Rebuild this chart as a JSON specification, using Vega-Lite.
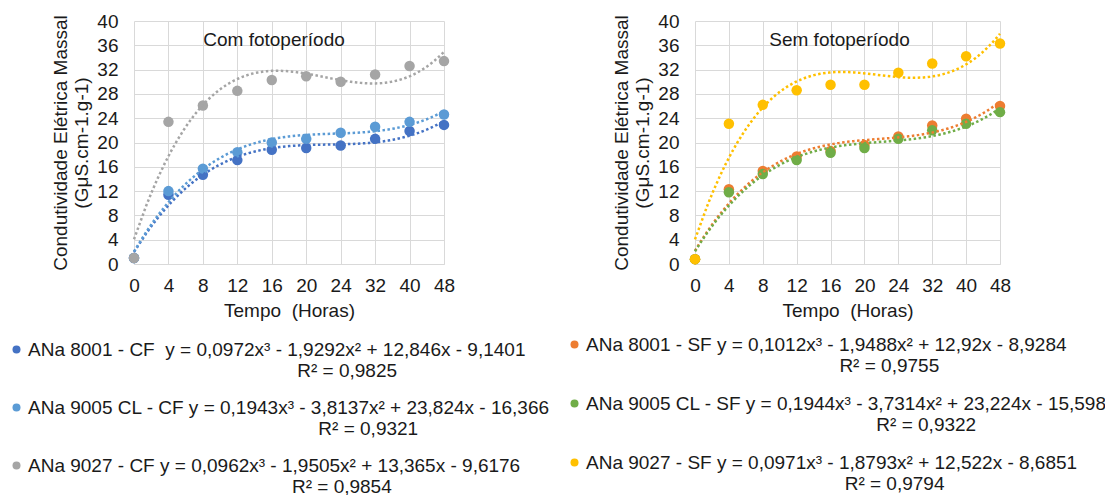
{
  "$schema": "https://vega.github.io/schema/vega-lite/v6.json",
  "padding": {"left": 7, "top": 12, "right": 5, "bottom": 2},
  "background": "white",
  "config": {
    "view": {"stroke": null},
    "font": "Liberation Sans",
    "axis": {
      "labelFont": "Liberation Sans", "labelFontSize": 19, "labelColor": "#1a1a1a", "labelFlush": false,
      "titleFont": "Liberation Sans", "titleFontSize": 19, "titleFontWeight": "normal", "titleColor": "#1a1a1a",
      "gridColor": "#D9D9D9", "gridWidth": 1, "ticks": false, "domain": false
    },
    "legend": {
      "orient": "none", "direction": "vertical", "title": null, "padding": 0,
      "symbolType": "circle", "symbolSize": 64, "symbolStrokeWidth": 0,
      "labelFont": "Liberation Sans", "labelFontSize": 19, "labelColor": "#1a1a1a",
      "labelLimit": 1000, "labelOffset": 2, "rowPadding": 17
    },
    "title": {"font": "Liberation Sans", "fontSize": 19, "fontWeight": "normal", "color": "#1a1a1a"}
  },
  "bounds": "flush",
  "spacing": 251,
  "resolve": {"scale": {"color": "independent"}},
  "hconcat": [
    {
      "width": 310, "height": 243,
      "title": {"text": "Com fotoperíodo", "offset": -38, "dx": -15},
      "data": {"values": [
        {"s": "ANa 8001 - CF", "t": 1, "v": 1.0}, {"s": "ANa 8001 - CF", "t": 2, "v": 11.4}, {"s": "ANa 8001 - CF", "t": 3, "v": 14.7}, {"s": "ANa 8001 - CF", "t": 4, "v": 17.1}, {"s": "ANa 8001 - CF", "t": 5, "v": 18.8},
        {"s": "ANa 8001 - CF", "t": 6, "v": 19.1}, {"s": "ANa 8001 - CF", "t": 7, "v": 19.5}, {"s": "ANa 8001 - CF", "t": 8, "v": 20.6}, {"s": "ANa 8001 - CF", "t": 9, "v": 21.9}, {"s": "ANa 8001 - CF", "t": 10, "v": 22.9},
        {"s": "ANa 9005 CL - CF", "t": 1, "v": 1.0}, {"s": "ANa 9005 CL - CF", "t": 2, "v": 12.0}, {"s": "ANa 9005 CL - CF", "t": 3, "v": 15.7}, {"s": "ANa 9005 CL - CF", "t": 4, "v": 18.4}, {"s": "ANa 9005 CL - CF", "t": 5, "v": 20.0},
        {"s": "ANa 9005 CL - CF", "t": 6, "v": 20.6}, {"s": "ANa 9005 CL - CF", "t": 7, "v": 21.6}, {"s": "ANa 9005 CL - CF", "t": 8, "v": 22.6}, {"s": "ANa 9005 CL - CF", "t": 9, "v": 23.4}, {"s": "ANa 9005 CL - CF", "t": 10, "v": 24.6},
        {"s": "ANa 9027 - CF", "t": 1, "v": 1.0}, {"s": "ANa 9027 - CF", "t": 2, "v": 23.4}, {"s": "ANa 9027 - CF", "t": 3, "v": 26.1}, {"s": "ANa 9027 - CF", "t": 4, "v": 28.5}, {"s": "ANa 9027 - CF", "t": 5, "v": 30.3},
        {"s": "ANa 9027 - CF", "t": 6, "v": 30.9}, {"s": "ANa 9027 - CF", "t": 7, "v": 30.0}, {"s": "ANa 9027 - CF", "t": 8, "v": 31.2}, {"s": "ANa 9027 - CF", "t": 9, "v": 32.6}, {"s": "ANa 9027 - CF", "t": 10, "v": 33.4}
      ]},
      "encoding": {
        "x": {"field": "t", "type": "quantitative", "scale": {"domain": [1, 10], "nice": false, "zero": false},
          "axis": {"values": [1, 2, 3, 4, 5, 6, 7, 8, 9, 10], "labelExpr": "['0','4','8','12','16','20','24','32','40','48'][datum.value - 1]", "title": "Tempo\u00a0 (Horas)", "domain": true, "domainColor": "#D9D9D9", "labelPadding": 12, "titlePadding": 6}},
        "y": {"field": "v", "type": "quantitative", "scale": {"domain": [0, 40], "nice": false},
          "axis": {"values": [0, 4, 8, 12, 16, 20, 24, 28, 32, 36, 40], "title": ["Condutividade Elétrica Massal", "(GμS.cm-1.g-1)"], "labelPadding": 16, "titlePadding": 5}}
      },
      "layer": [
        {
          "mark": {"type": "point", "filled": true, "size": 110, "opacity": 1},
          "encoding": {
            "color": {"field": "s", "type": "nominal",
              "scale": {"domain": ["ANa 8001 - CF", "ANa 9005 CL - CF", "ANa 9027 - CF"], "range": ["#4472C4", "#5B9BD5", "#A5A5A5"]},
              "legend": {"legendX": -127, "legendY": 319,
                "labelExpr": "datum.label == 'ANa 8001 - CF' ? ['ANa 8001 - CF\u00a0 y = 0,0972x³ - 1,9292x² + 12,846x - 9,1401', '\u200b\u00a0\u00a0\u00a0\u00a0\u00a0\u00a0\u00a0\u00a0\u00a0\u00a0\u00a0\u00a0\u00a0\u00a0\u00a0\u00a0\u00a0\u00a0\u00a0\u00a0\u00a0\u00a0\u00a0\u00a0\u00a0\u00a0\u00a0\u00a0\u00a0\u00a0\u00a0\u00a0\u00a0\u00a0\u00a0\u00a0\u00a0\u00a0\u00a0\u00a0\u00a0\u00a0\u00a0\u00a0\u00a0\u00a0\u00a0\u00a0\u00a0\u00a0\u00a0R² = 0,9825'] : datum.label == 'ANa 9005 CL - CF' ? ['ANa 9005 CL - CF y = 0,1943x³ - 3,8137x² + 23,824x - 16,366', '\u200b\u00a0\u00a0\u00a0\u00a0\u00a0\u00a0\u00a0\u00a0\u00a0\u00a0\u00a0\u00a0\u00a0\u00a0\u00a0\u00a0\u00a0\u00a0\u00a0\u00a0\u00a0\u00a0\u00a0\u00a0\u00a0\u00a0\u00a0\u00a0\u00a0\u00a0\u00a0\u00a0\u00a0\u00a0\u00a0\u00a0\u00a0\u00a0\u00a0\u00a0\u00a0\u00a0\u00a0\u00a0\u00a0\u00a0\u00a0\u00a0\u00a0\u00a0\u00a0\u00a0\u00a0\u00a0\u00a0R² = 0,9321'] : ['ANa 9027 - CF y = 0,0962x³ - 1,9505x² + 13,365x - 9,6176', '\u200b\u00a0\u00a0\u00a0\u00a0\u00a0\u00a0\u00a0\u00a0\u00a0\u00a0\u00a0\u00a0\u00a0\u00a0\u00a0\u00a0\u00a0\u00a0\u00a0\u00a0\u00a0\u00a0\u00a0\u00a0\u00a0\u00a0\u00a0\u00a0\u00a0\u00a0\u00a0\u00a0\u00a0\u00a0\u00a0\u00a0\u00a0\u00a0\u00a0\u00a0\u00a0\u00a0\u00a0\u00a0\u00a0\u00a0\u00a0\u00a0\u00a0\u00a0R² = 0,9854']"}}
          }
        },
        {
          "transform": [{"regression": "v", "on": "t", "groupby": ["s"], "method": "poly", "order": 3}],
          "mark": {"type": "line", "strokeDash": [2.5, 2.5], "strokeWidth": 2.5},
          "encoding": {
            "color": {"field": "s", "type": "nominal", "legend": null}
          }
        }
      ]
    },
    {
      "width": 305, "height": 243,
      "title": {"text": "Sem fotoperíodo", "offset": -38, "dx": -8},
      "data": {"values": [
        {"s": "ANa 8001 - SF", "t": 1, "v": 0.8}, {"s": "ANa 8001 - SF", "t": 2, "v": 12.3}, {"s": "ANa 8001 - SF", "t": 3, "v": 15.3}, {"s": "ANa 8001 - SF", "t": 4, "v": 17.7}, {"s": "ANa 8001 - SF", "t": 5, "v": 18.6},
        {"s": "ANa 8001 - SF", "t": 6, "v": 19.6}, {"s": "ANa 8001 - SF", "t": 7, "v": 21.0}, {"s": "ANa 8001 - SF", "t": 8, "v": 22.8}, {"s": "ANa 8001 - SF", "t": 9, "v": 23.9}, {"s": "ANa 8001 - SF", "t": 10, "v": 26.0},
        {"s": "ANa 9005 CL - SF", "t": 1, "v": 0.8}, {"s": "ANa 9005 CL - SF", "t": 2, "v": 11.8}, {"s": "ANa 9005 CL - SF", "t": 3, "v": 14.8}, {"s": "ANa 9005 CL - SF", "t": 4, "v": 17.1}, {"s": "ANa 9005 CL - SF", "t": 5, "v": 18.3},
        {"s": "ANa 9005 CL - SF", "t": 6, "v": 19.1}, {"s": "ANa 9005 CL - SF", "t": 7, "v": 20.6}, {"s": "ANa 9005 CL - SF", "t": 8, "v": 22.0}, {"s": "ANa 9005 CL - SF", "t": 9, "v": 23.1}, {"s": "ANa 9005 CL - SF", "t": 10, "v": 25.0},
        {"s": "ANa 9027 - SF", "t": 1, "v": 0.8}, {"s": "ANa 9027 - SF", "t": 2, "v": 23.1}, {"s": "ANa 9027 - SF", "t": 3, "v": 26.2}, {"s": "ANa 9027 - SF", "t": 4, "v": 28.6}, {"s": "ANa 9027 - SF", "t": 5, "v": 29.5},
        {"s": "ANa 9027 - SF", "t": 6, "v": 29.5}, {"s": "ANa 9027 - SF", "t": 7, "v": 31.5}, {"s": "ANa 9027 - SF", "t": 8, "v": 33.0}, {"s": "ANa 9027 - SF", "t": 9, "v": 34.2}, {"s": "ANa 9027 - SF", "t": 10, "v": 36.3}
      ]},
      "encoding": {
        "x": {"field": "t", "type": "quantitative", "scale": {"domain": [1, 10], "nice": false, "zero": false},
          "axis": {"values": [1, 2, 3, 4, 5, 6, 7, 8, 9, 10], "labelExpr": "['0','4','8','12','16','20','24','32','40','48'][datum.value - 1]", "title": "Tempo\u00a0 (Horas)", "domain": true, "domainColor": "#D9D9D9", "labelPadding": 12, "titlePadding": 6}},
        "y": {"field": "v", "type": "quantitative", "scale": {"domain": [0, 40], "nice": false},
          "axis": {"values": [0, 4, 8, 12, 16, 20, 24, 28, 32, 36, 40], "title": ["Condutividade Elétrica Massal", "(GμS.cm-1.g-1)"], "labelPadding": 16, "titlePadding": 5}}
      },
      "layer": [
        {
          "mark": {"type": "point", "filled": true, "size": 110, "opacity": 1},
          "encoding": {
            "color": {"field": "s", "type": "nominal",
              "scale": {"domain": ["ANa 8001 - SF", "ANa 9005 CL - SF", "ANa 9027 - SF"], "range": ["#ED7D31", "#70AD47", "#FFC000"]},
              "legend": {"legendX": -130, "legendY": 314, "rowPadding": 18,
                "labelExpr": "datum.label == 'ANa 8001 - SF' ? ['ANa 8001 - SF y = 0,1012x³ - 1,9488x² + 12,92x - 8,9284', '\u200b\u00a0\u00a0\u00a0\u00a0\u00a0\u00a0\u00a0\u00a0\u00a0\u00a0\u00a0\u00a0\u00a0\u00a0\u00a0\u00a0\u00a0\u00a0\u00a0\u00a0\u00a0\u00a0\u00a0\u00a0\u00a0\u00a0\u00a0\u00a0\u00a0\u00a0\u00a0\u00a0\u00a0\u00a0\u00a0\u00a0\u00a0\u00a0\u00a0\u00a0\u00a0\u00a0\u00a0\u00a0\u00a0\u00a0\u00a0\u00a0R² = 0,9755'] : datum.label == 'ANa 9005 CL - SF' ? ['ANa 9005 CL - SF y = 0,1944x³ - 3,7314x² + 23,224x - 15,598', '\u200b\u00a0\u00a0\u00a0\u00a0\u00a0\u00a0\u00a0\u00a0\u00a0\u00a0\u00a0\u00a0\u00a0\u00a0\u00a0\u00a0\u00a0\u00a0\u00a0\u00a0\u00a0\u00a0\u00a0\u00a0\u00a0\u00a0\u00a0\u00a0\u00a0\u00a0\u00a0\u00a0\u00a0\u00a0\u00a0\u00a0\u00a0\u00a0\u00a0\u00a0\u00a0\u00a0\u00a0\u00a0\u00a0\u00a0\u00a0\u00a0\u00a0\u00a0\u00a0\u00a0\u00a0\u00a0\u00a0R² = 0,9322'] : ['ANa 9027 - SF y = 0,0971x³ - 1,8793x² + 12,522x - 8,6851', '\u200b\u00a0\u00a0\u00a0\u00a0\u00a0\u00a0\u00a0\u00a0\u00a0\u00a0\u00a0\u00a0\u00a0\u00a0\u00a0\u00a0\u00a0\u00a0\u00a0\u00a0\u00a0\u00a0\u00a0\u00a0\u00a0\u00a0\u00a0\u00a0\u00a0\u00a0\u00a0\u00a0\u00a0\u00a0\u00a0\u00a0\u00a0\u00a0\u00a0\u00a0\u00a0\u00a0\u00a0\u00a0\u00a0\u00a0\u00a0\u00a0\u00a0R² = 0,9794']"}}
          }
        },
        {
          "transform": [{"regression": "v", "on": "t", "groupby": ["s"], "method": "poly", "order": 3}],
          "mark": {"type": "line", "strokeDash": [2.5, 2.5], "strokeWidth": 2.5},
          "encoding": {
            "color": {"field": "s", "type": "nominal", "legend": null}
          }
        }
      ]
    }
  ]
}
